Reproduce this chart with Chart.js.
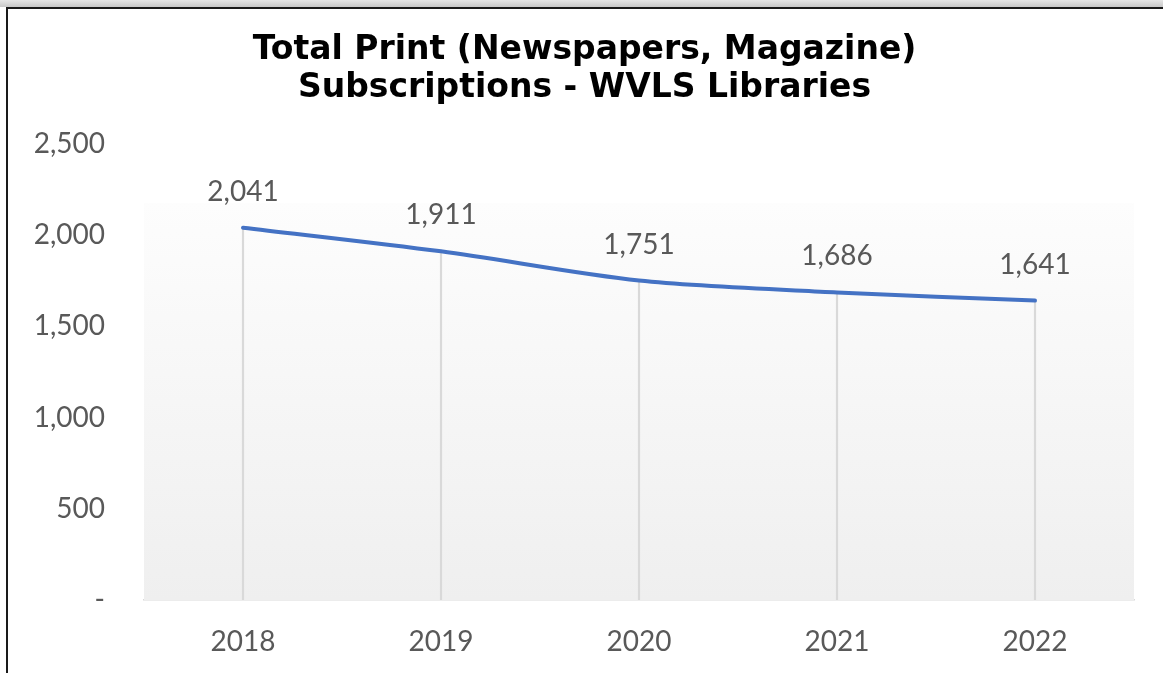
<!DOCTYPE html>
<html lang="en">
<head>
    <meta charset="UTF-8">
    <title>Total Print Subscriptions - WVLS Libraries</title>
    <script src="https://cdn.jsdelivr.net/npm/chart.js"></script>
    <style>
        html, body {
            margin: 0;
            padding: 0;
            background: #fff;
        }
        #shadow {
            position: absolute;
            left: 0; top: 0;
            width: 1163px; height: 7px;
            background: linear-gradient(#e6e6e6, #c8c8c8);
        }
        #frame {
            position: absolute;
            left: 6px; top: 7px;
            width: 1157px; height: 666px;
            border-left: 2px solid #1a1a1a;
            border-top: 2px solid #1a1a1a;
            box-sizing: border-box;
            pointer-events: none;
        }
        #wrap {
            position: absolute;
            left: 0; top: 0;
            width: 1163px; height: 673px;
        }
    </style>
</head>
<body>
    <div id="shadow"></div>
    <div id="wrap"><canvas id="printChart"></canvas></div>
    <div id="frame"></div>
    <script>
        const years = ['2018', '2019', '2020', '2021', '2022'];
        const subscriptions = [2041, 1911, 1751, 1686, 1641];
        const yTicks = [0, 500, 1000, 1500, 2000, 2500];

        const fmt = v => v === 0 ? '-' : v.toLocaleString('en-US');

        // gradient fill behind the plot
        const plotBackground = {
            id: 'plotBackground',
            beforeDatasetsDraw(chart) {
                const { ctx, chartArea } = chart;
                const top = chartArea.top + (chartArea.bottom - chartArea.top) * 0.13;
                const g = ctx.createLinearGradient(0, top, 0, chartArea.bottom);
                g.addColorStop(0, '#fdfdfd');
                g.addColorStop(1, '#efefef');
                ctx.save();
                ctx.fillStyle = g;
                ctx.fillRect(chartArea.left, top, chartArea.right - chartArea.left, chartArea.bottom - top);
                ctx.restore();
            }
        };

        // value labels above the line points
        const pointLabels = {
            id: 'pointLabels',
            afterDatasetsDraw(chart) {
                const { ctx } = chart;
                const meta = chart.getDatasetMeta(1);
                ctx.save();
                ctx.font = '28px Lato';
                ctx.fillStyle = '#595959';
                ctx.textAlign = 'center';
                ctx.textBaseline = 'middle';
                meta.data.forEach((pt, i) => {
                    ctx.fillText(fmt(subscriptions[i]), pt.x, pt.y - 36);
                });
                ctx.restore();
            }
        };

        new Chart(document.getElementById('printChart'), {
            data: {
                labels: years,
                datasets: [
                    {
                        // thin bars act as drop lines
                        type: 'bar',
                        data: subscriptions,
                        backgroundColor: '#d9d9d9',
                        barThickness: 1.5,
                        order: 2
                    },
                    {
                        type: 'line',
                        data: subscriptions,
                        borderColor: '#4472C4',
                        borderWidth: 4,
                        tension: 0.3,
                        pointRadius: 0,
                        borderCapStyle: 'round',
                        order: 1
                    }
                ]
            },
            options: {
                responsive: true,
                maintainAspectRatio: false,
                animation: false,
                layout: {
                    autoPadding: false,
                    padding: { left: 35, right: 29, top: 0, bottom: 17 }
                },
                plugins: {
                    legend: { display: false },
                    tooltip: { enabled: false },
                    title: {
                        display: true,
                        text: ['Total Print (Newspapers, Magazine)', 'Subscriptions - WVLS Libraries'],
                        color: '#000',
                        font: { family: 'DejaVu Sans', weight: 'bold', size: 33, lineHeight: 1.15 },
                        padding: { top: 31, bottom: 37 }
                    }
                },
                scales: {
                    x: {
                        grid: { display: false, drawTicks: false },
                        border: { color: '#d9d9d9', width: 1.5 },
                        afterFit(axis) { axis.height = 56; },
                        ticks: {
                            color: '#595959',
                            font: { family: 'Lato', size: 28 },
                            padding: 25
                        }
                    },
                    y: {
                        min: 0,
                        max: 2500,
                        afterBuildTicks(axis) {
                            axis.ticks = yTicks.map(v => ({ value: v }));
                        },
                        afterFit(axis) { axis.width = 109; },
                        grid: { display: false, drawTicks: false },
                        border: { display: false },
                        ticks: {
                            color: '#595959',
                            font: { family: 'Lato', size: 28 },
                            padding: 39,
                            callback: v => fmt(v)
                        }
                    }
                }
            },
            plugins: [plotBackground, pointLabels]
        });
    </script>
</body>
</html>
